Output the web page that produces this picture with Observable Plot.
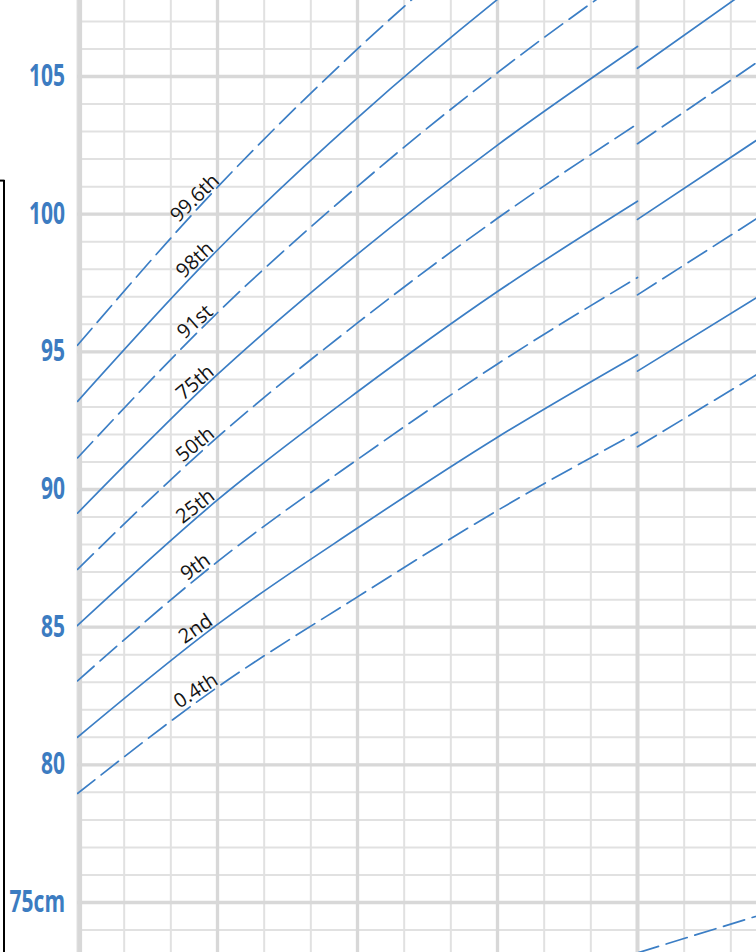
<!DOCTYPE html>
<html>
<head>
<meta charset="utf-8">
<script src="https://cdn.jsdelivr.net/npm/d3@7"></script>
<script src="https://cdn.jsdelivr.net/npm/@observablehq/plot@0.6"></script>
<style>
  html, body { margin: 0; padding: 0; background: #fff; }
  #chart svg { display: block; }
</style>
</head>
<body>
<div id="chart"></div>
<script>
// ---------- data ----------
const centileNames = ["0.4th", "2nd", "9th", "25th", "50th", "75th", "91st", "98th", "99.6th"];
const centileDashed = [true, false, true, false, true, false, true, false, true];

// WHO section (age 2 to 4 years), height in cm
const whoAges = [2, 2.5, 3, 3.5, 4];
const who_p0_4  = [78.96, 82.82, 86.10, 89.24, 92.08];
const who_p2    = [81.00, 85.10, 88.60, 91.90, 94.89];
const who_p9    = [83.05, 87.38, 91.09, 94.56, 97.70];
const who_p25   = [85.06, 89.62, 93.55, 97.19, 100.47];
const who_p50   = [87.10, 91.90, 96.05, 99.85, 103.28];
const who_p75   = [89.14, 94.18, 98.55, 102.51, 106.09];
const who_p91   = [91.15, 96.42, 101.01, 105.14, 108.86];
const who_p98   = [93.20, 98.70, 103.50, 107.80, 111.67];
const who_p99_6 = [95.24, 100.98, 106.00, 110.46, 114.48];

// UK90 section (from age 4), height in cm
const ukAges = [4, 4.5];
const uk_p0_4  = [91.55, 94.63];
const uk_p2    = [94.30, 97.44];
const uk_p9    = [97.07, 100.32];
const uk_p25   = [99.81, 103.19];
const uk_p50   = [102.56, 106.02];
const uk_p75   = [105.30, 108.90];
const uk_p91   = [108.01, 111.68];
const uk_p98   = [110.76, 114.54];
const uk_p99_6 = [113.51, 117.39];

// extra dashed curve entering at the bottom right
const lowerAges = [4, 4.5];
const lowerCm = [73.17, 74.74];

// axis / grid ticks
const yTicks = [75, 80, 85, 90, 95, 100, 105];
const yTickUnit = "cm";
const minorCm = d3.range(73, 108, 1);
const majorCm = [75, 80, 85, 90, 95, 100, 105];
const minorAge = d3.range(0, 15).map(k => 2 + k / 6);
const mediumAge = [2.5, 3, 3.5];
const heavyAge = [4];
const originAge = [2];

const labelAge = 2.435;
const bracketTopCm = 101.22;

// ---------- layout / styles ----------
const W = 756, H = 952, ML = 77;
const xDomain = [2, 4.425];
const yDomain = [73.184, 107.761];
const blue = "#3b7ec5";
const tickBlue = "#3c7cc1";
const gridMinor = "#e1e1e1";
const gridMajor = "#d8d8d8";

const whoSeries = [who_p0_4, who_p2, who_p9, who_p25, who_p50, who_p75, who_p91, who_p98, who_p99_6];
const ukSeries = [uk_p0_4, uk_p2, uk_p9, uk_p25, uk_p50, uk_p75, uk_p91, uk_p98, uk_p99_6];

const rows = [];
centileNames.forEach((name, i) => {
  whoAges.forEach((a, j) => rows.push({key: "who-" + name, age: a, cm: whoSeries[i][j], dashed: centileDashed[i]}));
  ukAges.forEach((a, j) => rows.push({key: "uk-" + name, age: a, cm: ukSeries[i][j], dashed: centileDashed[i]}));
});
lowerAges.forEach((a, j) => rows.push({key: "lower", age: a, cm: lowerCm[j], dashed: true}));

// labels placed along each centile, rotated to follow the line
const kX = (W - ML) / (xDomain[1] - xDomain[0]);
const kY = H / (yDomain[1] - yDomain[0]);
const labels = centileNames.map((name, i) => {
  const [a, b, c] = whoSeries[i];
  const u = labelAge - whoAges[0];
  const B = -3 * a + 4 * b - c, C = 2 * a - 4 * b + 2 * c;
  const v = a + u * B + u * u * C;
  const d = B + 2 * u * C;
  const ang = Math.atan(d * kY / kX) * 180 / Math.PI;
  return {name, age: labelAge, cm: v, rot: -(ang - 3)};
});

const plot = Plot.plot({
  width: W,
  height: H,
  marginLeft: ML,
  marginRight: 0,
  marginTop: 0,
  marginBottom: 0,
  x: {domain: xDomain, axis: null},
  y: {domain: yDomain, axis: null},
  style: {background: "#fff", overflow: "visible"},
  marks: [
    Plot.ruleY(minorCm, {stroke: gridMinor, strokeWidth: 2}),
    Plot.ruleX(minorAge, {stroke: gridMinor, strokeWidth: 2}),
    Plot.ruleY(majorCm, {stroke: gridMajor, strokeWidth: 3.3}),
    Plot.ruleX(mediumAge, {stroke: gridMajor, strokeWidth: 3.3}),
    Plot.ruleX(heavyAge, {stroke: gridMajor, strokeWidth: 4}),
    Plot.ruleX(originAge, {stroke: gridMajor, strokeWidth: 4.6, dx: 2.3}),
    Plot.line(rows.filter(d => !d.dashed), {
      x: "age", y: "cm", z: "key", stroke: blue, strokeWidth: 1.7,
      curve: "monotone-x", clip: true
    }),
    Plot.line(rows.filter(d => d.dashed), {
      x: "age", y: "cm", z: "key", stroke: blue, strokeWidth: 1.7,
      strokeDasharray: "22,8", curve: "monotone-x", clip: true
    }),
    Plot.text(labels, {
      x: "age", y: "cm", text: "name", rotate: "rot",
      textAnchor: "middle", lineAnchor: "bottom", dy: -4,
      fontSize: 20, fontFamily: "'Open Sans', 'Noto Sans', sans-serif", fill: "#141414"
    }),
    Plot.text(yTicks, {
      y: d => d, text: d => d === 75 ? d + yTickUnit : String(d),
      frameAnchor: "left", dx: -12.5, textAnchor: "end", lineAnchor: "middle",
      fontSize: 30, fontWeight: 700, fontFamily: "'Open Sans', 'Liberation Sans', sans-serif",
      fill: tickBlue
    }),
    Plot.ruleX([1.7375], {y1: bracketTopCm, y2: yDomain[0], stroke: "#000", strokeWidth: 2, clip: false}),
    Plot.ruleY([bracketTopCm], {x1: 1.725, x2: 1.741, stroke: "#000", strokeWidth: 2, clip: false})
  ]
});

// condense the tick labels horizontally (narrow bold face in the original)
const tickStrings = new Set(yTicks.map(d => d === 75 ? d + yTickUnit : String(d)));
plot.querySelectorAll("text").forEach(t => {
  if (!tickStrings.has(t.textContent)) return;
  const tr = t.getAttribute("transform");
  if (tr) {
    t.setAttribute("transform", tr + " scale(0.70,1)");
  } else {
    const x = +t.getAttribute("x") || 0, y = +t.getAttribute("y") || 0;
    t.removeAttribute("x"); t.removeAttribute("y");
    t.setAttribute("transform", `translate(${x},${y}) scale(0.70,1)`);
  }
});

document.getElementById("chart").appendChild(plot);
</script>
</body>
</html>
